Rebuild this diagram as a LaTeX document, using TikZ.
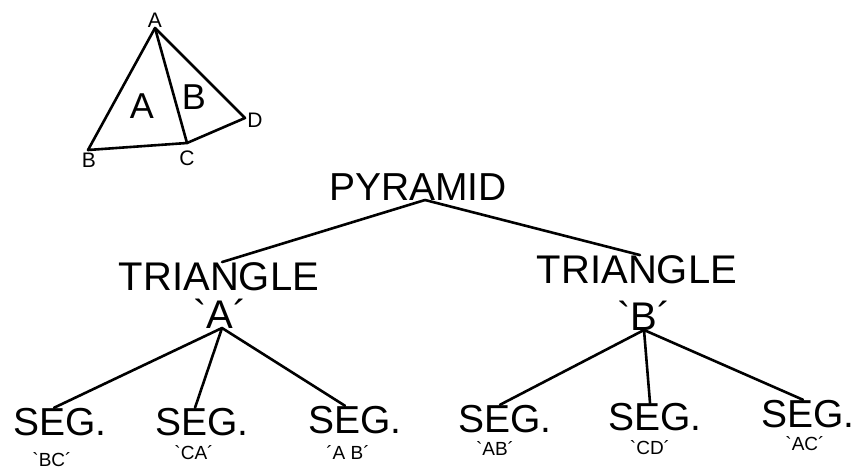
\documentclass[tikz,border=0pt]{standalone}
\usepackage{fontspec}
\setmainfont{Liberation Sans}[Ligatures=TeXOff]
\newcommand{\lt}{\symbol{"60}}
\newcommand{\rt}{\symbol{"B4}}
\begin{document}
\begin{tikzpicture}[x=1pt,y=-1pt,
  every node/.style={inner sep=0pt,outer sep=0pt,anchor=base},
  big/.style={font=\fontsize{40}{40}\selectfont},
  seg/.style={font=\fontsize{39}{39}\selectfont},
  mid/.style={font=\fontsize{39}{39}\selectfont},
  let/.style={font=\fontsize{40}{40}\selectfont},
  tag/.style={font=\fontsize{19}{19}\selectfont},
  vlab/.style={font=\fontsize{21}{21}\selectfont,anchor=center},
  face/.style={font=\fontsize{36}{36}\selectfont,anchor=center},
  link/.style={line width=2.6pt,line cap=round,line join=round}]
\useasboundingbox (0,0) rectangle (858,469);

% small sketch of the two faces
\coordinate (pA) at (155,28);
\coordinate (pB) at (88,150);
\coordinate (pC) at (187,143);
\coordinate (pD) at (245,118);
\draw[link] (pA) -- (pB) -- (pC) -- (pD) -- cycle;
\draw[link] (pA) -- (pC);
\node[vlab] (lA) at (155,20) {A};
\node[vlab] (lB) at (89,160) {B};
\node[vlab] (lC) at (187,158) {C};
\node[vlab] (lD) at (255,120) {D};
\node[face] (fA) at (142,106) {A};
\node[face] (fB) at (194,97) {B};

% tree
\node[mid] (pyr) at (418,200) {PYRAMID};
\node[big] (triA) at (219,290) {TRIANGLE};
\node[big] (triB) at (637,283) {TRIANGLE};
\node[let] (letA) at (220,328) {\lt A\rt};
\node[let] (letB) at (644,330) {\lt B\rt};

\node[seg] (s1) at (60,435) {SEG.};
\node[seg] (s2) at (202,435) {SEG.};
\node[seg] (s3) at (355,433) {SEG.};
\node[seg] (s4) at (505,432) {SEG.};
\node[seg] (s5) at (655,430) {SEG.};
\node[seg] (s6) at (808,427) {SEG.};

\node[tag] (t1) at (52,466) {\lt BC\rt};
\node[tag] (t2) at (194,459) {\lt CA\rt};
\node[tag] (t3) at (348,459) {\rt A B\rt};
\node[tag] (t4) at (495,455) {\lt AB\rt};
\node[tag] (t5) at (650,454) {\lt CD\rt};
\node[tag] (t6) at (805,450) {\lt AC\rt};

\draw[link] ([xshift=7pt]pyr.south) -- ([xshift=3pt]triA.north);
\draw[link] ([xshift=7pt]pyr.south) -- ([xshift=3pt]triB.north);
\draw[link] ([xshift=2pt]letA.south) -- ([xshift=-6pt]s1.north);
\draw[link] ([xshift=2pt]letA.south) -- ([xshift=-7pt]s2.north);
\draw[link] ([xshift=2pt]letA.south) -- ([xshift=-10pt]s3.north);
\draw[link] (letB.south) -- ([xshift=-5pt]s4.north);
\draw[link] (letB.south) -- ([xshift=-5pt]s5.north);
\draw[link] (letB.south) -- ([xshift=-5pt]s6.north);
\end{tikzpicture}
\end{document}
